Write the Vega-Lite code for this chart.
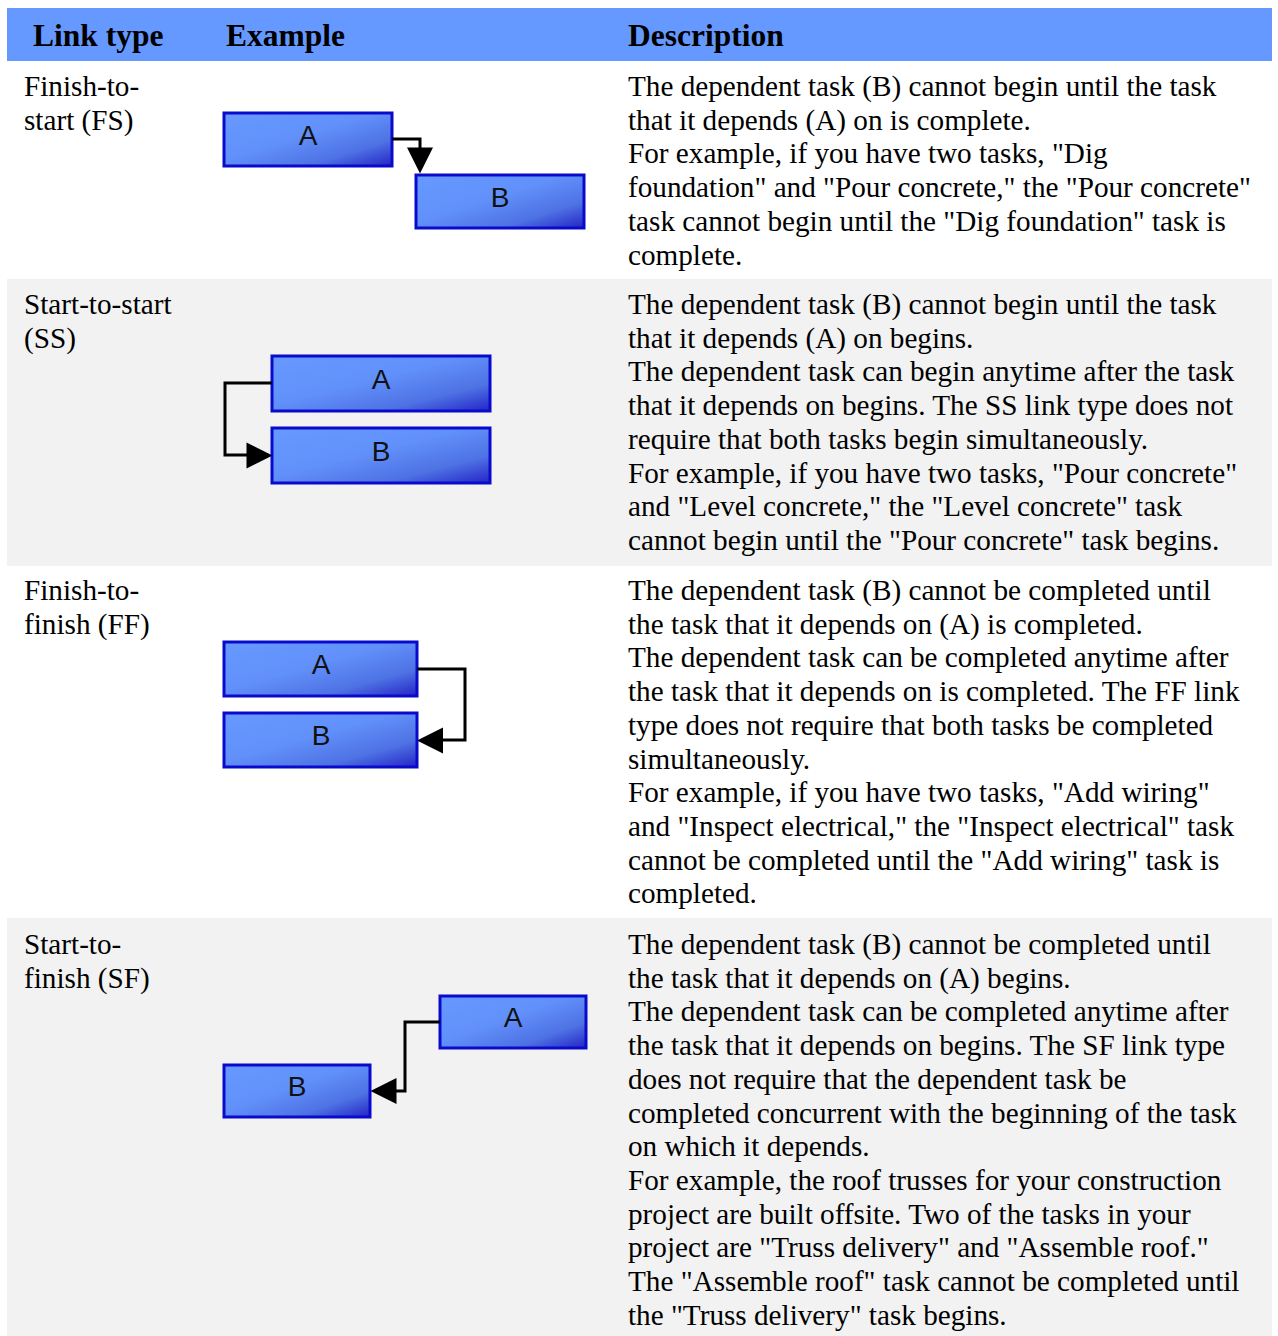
{
  "$schema": "https://vega.github.io/schema/vega-lite/v6.json",
  "width": 1278,
  "height": 1336,
  "padding": 0,
  "autosize": {"type": "fit", "contains": "padding"},
  "background": "white",
  "config": {"view": {"stroke": null}, "font": "Liberation Serif"},
  "datasets": {
    "bg": [
      {"part": "header", "x": 7, "x2": 1272, "y": 8, "y2": 61},
      {"part": "ss", "x": 7, "x2": 1272, "y": 279, "y2": 566},
      {"part": "sf", "x": 7, "x2": 1272, "y": 918, "y2": 1336}
    ],
    "bars": [
      {"task": "FS-A", "x": 224, "x2": 392, "y": 113, "y2": 166},
      {"task": "FS-B", "x": 416, "x2": 584, "y": 175, "y2": 228},
      {"task": "SS-A", "x": 272, "x2": 490, "y": 356, "y2": 411},
      {"task": "SS-B", "x": 272, "x2": 490, "y": 428, "y2": 483},
      {"task": "FF-A", "x": 224, "x2": 417, "y": 642, "y2": 696},
      {"task": "FF-B", "x": 224, "x2": 417, "y": 713, "y2": 767},
      {"task": "SF-A", "x": 440, "x2": 586, "y": 996, "y2": 1048},
      {"task": "SF-B", "x": 224, "x2": 370, "y": 1065, "y2": 1117}
    ],
    "links": [
      {"link": "FS", "ord": 0, "x": 392, "y": 139},
      {"link": "FS", "ord": 1, "x": 420, "y": 139},
      {"link": "FS", "ord": 2, "x": 420, "y": 152},
      {"link": "SS", "ord": 0, "x": 272, "y": 383},
      {"link": "SS", "ord": 1, "x": 225, "y": 383},
      {"link": "SS", "ord": 2, "x": 225, "y": 455},
      {"link": "SS", "ord": 3, "x": 250, "y": 455},
      {"link": "FF", "ord": 0, "x": 417, "y": 669},
      {"link": "FF", "ord": 1, "x": 465, "y": 669},
      {"link": "FF", "ord": 2, "x": 465, "y": 740},
      {"link": "FF", "ord": 3, "x": 440, "y": 740},
      {"link": "SF", "ord": 0, "x": 440, "y": 1022},
      {"link": "SF", "ord": 1, "x": 405, "y": 1022},
      {"link": "SF", "ord": 2, "x": 405, "y": 1091},
      {"link": "SF", "ord": 3, "x": 394, "y": 1091}
    ],
    "heads": [
      {"link": "FS", "dir": "down", "x": 420, "y": 160.5},
      {"link": "SS", "dir": "right", "x": 259.5, "y": 455.5},
      {"link": "FF", "dir": "left", "x": 430, "y": 740.5},
      {"link": "SF", "dir": "left", "x": 383.5, "y": 1091}
    ],
    "labels": [
      {"text": "A", "x": 308, "y": 145},
      {"text": "B", "x": 500, "y": 207},
      {"text": "A", "x": 381, "y": 389},
      {"text": "B", "x": 381, "y": 461},
      {"text": "A", "x": 321, "y": 674},
      {"text": "B", "x": 321, "y": 745},
      {"text": "A", "x": 513, "y": 1027},
      {"text": "B", "x": 297, "y": 1096}
    ],
    "header": [
      {"text": "Link type", "x": 33, "y": 46},
      {"text": "Example", "x": 226, "y": 46},
      {"text": "Description", "x": 628, "y": 46}
    ],
    "cells": [
      {"text": "Finish-to-\nstart (FS)", "x": 24, "y": 96},
      {"text": "Start-to-start\n(SS)", "x": 24, "y": 314},
      {"text": "Finish-to-\nfinish (FF)", "x": 24, "y": 600},
      {"text": "Start-to-\nfinish (SF)", "x": 24, "y": 954},
      {"text": "The dependent task (B) cannot begin until the task\nthat it depends (A) on is complete.\nFor example, if you have two tasks, \"Dig\nfoundation\" and \"Pour concrete,\" the \"Pour concrete\"\ntask cannot begin until the \"Dig foundation\" task is\ncomplete.", "x": 628, "y": 96},
      {"text": "The dependent task (B) cannot begin until the task\nthat it depends (A) on begins.\nThe dependent task can begin anytime after the task\nthat it depends on begins. The SS link type does not\nrequire that both tasks begin simultaneously.\nFor example, if you have two tasks, \"Pour concrete\"\nand \"Level concrete,\" the \"Level concrete\" task\ncannot begin until the \"Pour concrete\" task begins.", "x": 628, "y": 314},
      {"text": "The dependent task (B) cannot be completed until\nthe task that it depends on (A) is completed.\nThe dependent task can be completed anytime after\nthe task that it depends on is completed. The FF link\ntype does not require that both tasks be completed\nsimultaneously.\nFor example, if you have two tasks, \"Add wiring\"\nand \"Inspect electrical,\" the \"Inspect electrical\" task\ncannot be completed until the \"Add wiring\" task is\ncompleted.", "x": 628, "y": 600},
      {"text": "The dependent task (B) cannot be completed until\nthe task that it depends on (A) begins.\nThe dependent task can be completed anytime after\nthe task that it depends on begins. The SF link type\ndoes not require that the dependent task be\ncompleted concurrent with the beginning of the task\non which it depends.\nFor example, the roof trusses for your construction\nproject are built offsite. Two of the tasks in your\nproject are \"Truss delivery\" and \"Assemble roof.\"\nThe \"Assemble roof\" task cannot be completed until\nthe \"Truss delivery\" task begins.", "x": 628, "y": 954}
    ]
  },
  "layer": [
    {
      "data": {"name": "bg"},
      "mark": {"type": "rect", "strokeWidth": 0},
      "encoding": {
        "x": {"field": "x", "type": "quantitative", "scale": {"domain": [0, 1278], "nice": false, "zero": false}, "axis": null},
        "x2": {"field": "x2"},
        "y": {"field": "y", "type": "quantitative", "scale": {"domain": [0, 1336], "nice": false, "zero": false, "reverse": true}, "axis": null},
        "y2": {"field": "y2"},
        "color": {"field": "part", "type": "nominal", "scale": {"domain": ["header", "ss", "sf"], "range": ["#6699ff", "#f2f2f2", "#f2f2f2"]}, "legend": null}
      }
    },
    {
      "data": {"name": "bars"},
      "mark": {
        "type": "rect",
        "stroke": "#0a0acc",
        "strokeWidth": 3,
        "fill": {
          "gradient": "linear", "x1": 0, "y1": 0, "x2": 1, "y2": 1,
          "stops": [
            {"offset": 0, "color": "#6699ff"},
            {"offset": 0.45, "color": "#6190fa"},
            {"offset": 0.75, "color": "#4e72e4"},
            {"offset": 1, "color": "#2424c6"}
          ]
        }
      },
      "encoding": {
        "x": {"field": "x", "type": "quantitative", "axis": null},
        "x2": {"field": "x2"},
        "y": {"field": "y", "type": "quantitative", "axis": null},
        "y2": {"field": "y2"}
      }
    },
    {
      "data": {"name": "links"},
      "mark": {"type": "line", "color": "black", "strokeWidth": 3, "strokeJoin": "miter", "strokeCap": "butt"},
      "encoding": {
        "x": {"field": "x", "type": "quantitative", "axis": null},
        "y": {"field": "y", "type": "quantitative", "axis": null},
        "detail": {"field": "link", "type": "nominal"},
        "order": {"field": "ord", "type": "quantitative"}
      }
    },
    {
      "data": {"name": "heads"},
      "mark": {"type": "point", "filled": true, "size": 676, "opacity": 1, "color": "black", "strokeWidth": 0},
      "encoding": {
        "x": {"field": "x", "type": "quantitative", "axis": null},
        "y": {"field": "y", "type": "quantitative", "axis": null},
        "shape": {"field": "dir", "type": "nominal", "scale": {"domain": ["down", "right", "left"], "range": ["M-1,-1L1,-1L0,1Z", "M-1,-1L1,0L-1,1Z", "M1,-1L-1,0L1,1Z"]}, "legend": null}
      }
    },
    {
      "data": {"name": "labels"},
      "mark": {"type": "text", "font": "Liberation Sans", "fontSize": 28, "align": "center", "baseline": "alphabetic", "color": "#111111"},
      "encoding": {
        "x": {"field": "x", "type": "quantitative", "axis": null},
        "y": {"field": "y", "type": "quantitative", "axis": null},
        "text": {"field": "text", "type": "nominal"}
      }
    },
    {
      "data": {"name": "header"},
      "mark": {"type": "text", "font": "Liberation Serif", "fontSize": 31.5, "fontWeight": "bold", "align": "left", "baseline": "alphabetic", "color": "black"},
      "encoding": {
        "x": {"field": "x", "type": "quantitative", "axis": null},
        "y": {"field": "y", "type": "quantitative", "axis": null},
        "text": {"field": "text", "type": "nominal"}
      }
    },
    {
      "data": {"name": "cells"},
      "mark": {"type": "text", "font": "Liberation Serif", "fontSize": 29.2, "align": "left", "baseline": "alphabetic", "lineBreak": "\n", "lineHeight": 33.7, "color": "black"},
      "encoding": {
        "x": {"field": "x", "type": "quantitative", "axis": null},
        "y": {"field": "y", "type": "quantitative", "axis": null},
        "text": {"field": "text", "type": "nominal"}
      }
    }
  ]
}
